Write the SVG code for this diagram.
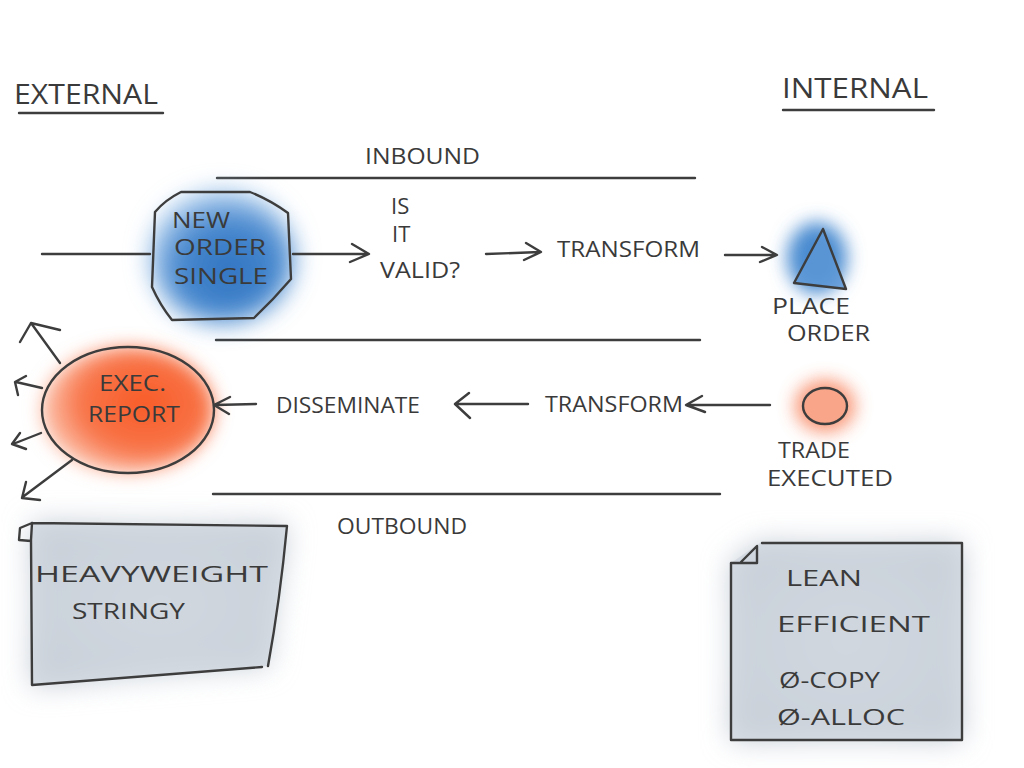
<svg xmlns="http://www.w3.org/2000/svg" width="1024" height="768" viewBox="0 0 1024 768">
<defs>
<style>
.ln{fill:none;stroke:#3d3d3d;stroke-width:2.4;stroke-linecap:round;stroke-linejoin:round}
.tx{font-family:"Open Sans","Liberation Sans",sans-serif;fill:#3a3a3a;font-size:22px}
.big{font-size:27px}
</style>
<filter id="blur" x="-50%" y="-50%" width="200%" height="200%"><feGaussianBlur stdDeviation="12"/></filter>
<filter id="blur2" x="-50%" y="-50%" width="200%" height="200%"><feGaussianBlur stdDeviation="9"/></filter>
<filter id="blurg" x="-30%" y="-30%" width="160%" height="160%"><feGaussianBlur stdDeviation="14"/></filter>
<radialGradient id="blueg" cx="0.55" cy="0.6" r="0.55"><stop offset="0" stop-color="#2f72c0"/><stop offset="0.7" stop-color="#4a8bd0"/><stop offset="1" stop-color="#9cc3ea"/></radialGradient>
<radialGradient id="orag" cx="0.6" cy="0.45" r="0.55"><stop offset="0" stop-color="#f85a26"/><stop offset="0.7" stop-color="#f8764a"/><stop offset="1" stop-color="#fbb49a"/></radialGradient>
<radialGradient id="greyg" cx="0.5" cy="0.5" r="0.6"><stop offset="0" stop-color="#dde2e8"/><stop offset="0.6" stop-color="#cfd6de"/><stop offset="1" stop-color="#c2cad3"/></radialGradient>
</defs>
<rect width="1024" height="768" fill="#ffffff"/>

<g id="header-external">
<text class="tx big" x="14" y="104" textLength="144" lengthAdjust="spacingAndGlyphs">EXTERNAL</text>
<path class="ln" d="M19 113 L163 113"/>
</g>
<g id="header-internal">
<text class="tx big" x="782" y="98" textLength="146" lengthAdjust="spacingAndGlyphs">INTERNAL</text>
<path class="ln" d="M783 110 L934 110"/>
</g>

<g id="lanes">
<text class="tx" x="365" y="164" textLength="115" lengthAdjust="spacingAndGlyphs" font-size="20">INBOUND</text>
<path class="ln" d="M217 178 L695 178"/>
<path class="ln" d="M216 340 L700 340"/>
<path class="ln" d="M213 494 L720 494"/>
<text class="tx" x="337" y="534" textLength="130" lengthAdjust="spacingAndGlyphs" font-size="20">OUTBOUND</text>
</g>

<g id="new-order-single">
<ellipse cx="222" cy="257" rx="72" ry="66" fill="url(#blueg)" filter="url(#blur)"/>
<path class="ln" d="M181 192 L250 192 Q270 200 288 213 L291 279 Q273 300 254 318 L172 320 Q160 305 152 287 L155 212 Q165 200 181 192 Z"/>
<text class="tx" x="172" y="228" textLength="58" lengthAdjust="spacingAndGlyphs" font-size="24">NEW</text>
<text class="tx" x="174" y="255" textLength="92" lengthAdjust="spacingAndGlyphs" font-size="24">ORDER</text>
<text class="tx" x="174" y="284" textLength="94" lengthAdjust="spacingAndGlyphs" font-size="24">SINGLE</text>
</g>

<g id="is-it-valid">
<text class="tx" x="391" y="214" font-size="16">IS</text>
<text class="tx" x="392" y="242" font-size="16">IT</text>
<text class="tx" x="380" y="278" textLength="80" lengthAdjust="spacingAndGlyphs">VALID?</text>
</g>

<g id="transform-in">
<text class="tx" x="557" y="257" textLength="143" lengthAdjust="spacingAndGlyphs">TRANSFORM</text>
</g>

<g id="place-order">
<ellipse cx="817" cy="258" rx="30" ry="36" fill="#4a8bd0" filter="url(#blur2)"/>
<path d="M823 229 L794 283 L846 289 Z" fill="#5c97d6" opacity="0.85"/>
<path class="ln" d="M823 229 L794 283 L846 289 L823 229"/>
<text class="tx" x="772" y="314" textLength="78" lengthAdjust="spacingAndGlyphs" font-size="24">PLACE</text>
<text class="tx" x="787" y="341" textLength="83" lengthAdjust="spacingAndGlyphs" font-size="24">ORDER</text>
</g>

<g id="exec-report">
<ellipse cx="128" cy="410" rx="86" ry="63" fill="url(#orag)" filter="url(#blur2)"/>
<ellipse class="ln" cx="128" cy="410" rx="86" ry="63"/>
<text class="tx" x="99" y="391" textLength="67" lengthAdjust="spacingAndGlyphs">EXEC.</text>
<text class="tx" x="88" y="422" textLength="92" lengthAdjust="spacingAndGlyphs" font-size="23">REPORT</text>
</g>

<g id="disseminate">
<text class="tx" x="276" y="413" textLength="144" lengthAdjust="spacingAndGlyphs">DISSEMINATE</text>
</g>

<g id="transform-out">
<text class="tx" x="545" y="412" textLength="138" lengthAdjust="spacingAndGlyphs">TRANSFORM</text>
</g>

<g id="trade-executed">
<ellipse cx="825" cy="406" rx="30" ry="26" fill="#f8815a" filter="url(#blur2)" opacity="0.85"/>
<ellipse cx="825" cy="406" rx="22" ry="18" fill="#f9a589"/>
<ellipse class="ln" cx="825" cy="406" rx="22" ry="18"/>
<text class="tx" x="778" y="458" textLength="72" lengthAdjust="spacingAndGlyphs">TRADE</text>
<text class="tx" x="767" y="486" textLength="126" lengthAdjust="spacingAndGlyphs">EXECUTED</text>
</g>

<g id="note-heavyweight">
<path d="M32 523 L287 525 L268 666 L32 686 Z" fill="url(#greyg)" filter="url(#blurg)"/>
<path d="M32 523 L287 525 L268 666 L32 686 Z" fill="#ccd3db" opacity="0.7"/>
<path class="ln" d="M32 523 L287 526 Q280 600 268 666 M262 667 L32 685 L31 540 L32 523 M32 523 L20 528 L19 540 L31 541"/>
<text class="tx" x="35" y="582" textLength="233" lengthAdjust="spacingAndGlyphs" font-size="32">HEAVYWEIGHT</text>
<text class="tx" x="72" y="619" textLength="113" lengthAdjust="spacingAndGlyphs" font-size="27">STRINGY</text>
</g>

<g id="note-lean">
<path d="M731 563 L760 543 L962 543 L962 740 L731 740 Z" fill="url(#greyg)" filter="url(#blurg)"/>
<path d="M731 563 L760 543 L962 543 L962 740 L731 740 Z" fill="#ccd3db" opacity="0.7"/>
<path class="ln" d="M762 543 L962 543 L962 740 L731 740 L731 563 L757 563 L757 546 L741 562"/>
<text class="tx" x="786" y="586" textLength="76" lengthAdjust="spacingAndGlyphs" font-size="30">LEAN</text>
<text class="tx" x="777" y="632" textLength="153" lengthAdjust="spacingAndGlyphs" font-size="30">EFFICIENT</text>
<text class="tx" x="779" y="688" textLength="101" lengthAdjust="spacingAndGlyphs" font-size="27">Ø-COPY</text>
<text class="tx" x="777" y="725" textLength="128" lengthAdjust="spacingAndGlyphs" font-size="27">Ø-ALLOC</text>
</g>

<g id="connectors">
<path class="ln" d="M42 254 L150 254"/>
<path class="ln" d="M293 254 L368 254 M352 244 L369 254 L350 262"/>
<path class="ln" d="M486 254 L540 252 M526 243 L541 252 L524 260"/>
<path class="ln" d="M725 255 L776 255 M762 247 L777 255 L760 262"/>
<path class="ln" d="M770 405 L687 405 M702 396 L686 405 L705 412"/>
<path class="ln" d="M528 404 L456 404 M469 393 L455 404 L470 418"/>
<path class="ln" d="M256 404 L215 405 M230 397 L214 405 L229 414"/>
<path class="ln" d="M60 363 L31 323 M20 342 L31 323 L60 330"/>
<path class="ln" d="M42 388 L16 382 M26 376 L15 382 L18 395"/>
<path class="ln" d="M41 433 L13 444 M20 433 L12 444 L26 449"/>
<path class="ln" d="M72 460 L24 496 M26 482 L22 498 L40 500"/>
</g>
</svg>
